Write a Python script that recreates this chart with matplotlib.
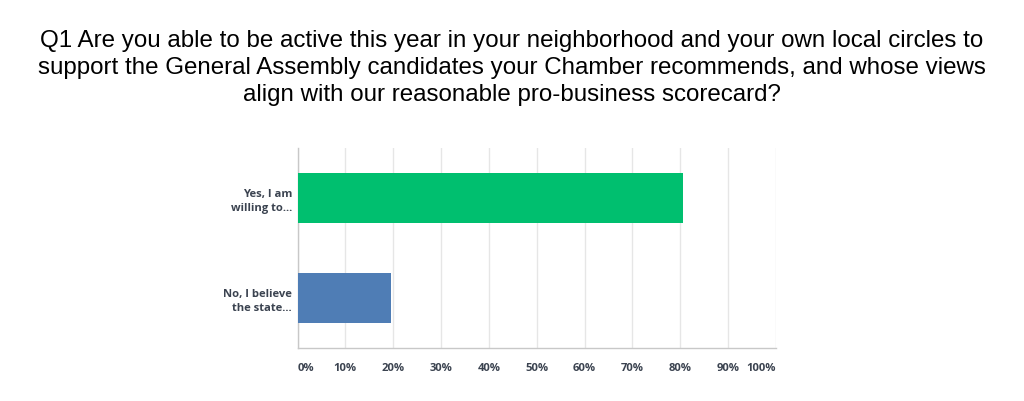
import matplotlib.pyplot as plt

# datos
categorias = ['No, I believe\nthe state...', 'Yes, I am\nwilling to...']
valores = [19.51, 80.49]
colores = ['#4f7db5', '#00bf6f']
ticks = list(range(0, 101, 10))
tick_labels = [f'{t}%' for t in ticks]

titulo = ('Q1 Are you able to be active this year in your neighborhood and your own local circles to\n'
          'support the General Assembly candidates your Chamber recommends, and whose views\n'
          'align with our reasonable pro-business scorecard?')

fuente = dict(fontfamily='Open Sans', fontweight='bold', fontsize=8.1, color='#3b4350')

fig = plt.figure(figsize=(10.24, 4.01), dpi=100)
ax = fig.add_axes([297.5 / 1024, 1 - 348 / 401, 478.5 / 1024, 200 / 401])

ax.barh(range(len(categorias)), valores, height=0.5, color=colores, zorder=3)
ax.set_xlim(0, 100)
ax.set_ylim(-0.5, 1.5)

ax.set_xticks(ticks)
etiquetas = ax.set_xticklabels(tick_labels, **fuente)
etiquetas[0].set_ha('left')
etiquetas[-1].set_ha('right')
ax.set_yticks(range(len(categorias)))
ax.set_yticklabels(categorias, linespacing=1.4, **fuente)
ax.tick_params(axis='both', length=0)
ax.tick_params(axis='x', pad=11)
ax.tick_params(axis='y', pad=4)

ax.grid(axis='x', color='#e6e6e6', linewidth=1, zorder=0)
for s in ['top', 'right']:
    ax.spines[s].set_visible(False)
for s in ['left', 'bottom']:
    ax.spines[s].set_color('#c8c8c8')
    ax.spines[s].set_linewidth(1)

fig.text(0.5, 1 - 68 / 401, titulo, ha='center', va='center', fontsize=17.35,
         fontfamily='Liberation Sans', color='black', linespacing=1.29)

fig.savefig('out.png', dpi=100)
